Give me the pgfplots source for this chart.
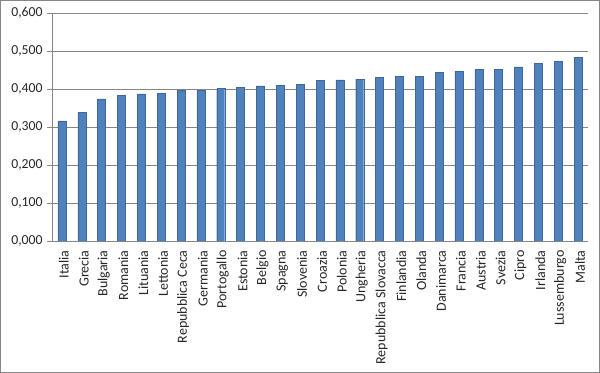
\documentclass[border=0pt]{standalone}
\usepackage{fontspec}
\setmainfont{Carlito}
\usepackage{pgfplots}
\pgfplotsset{compat=1.18}
\definecolor{barblue}{RGB}{79,129,189}
\definecolor{gridgray}{RGB}{134,134,134}
\begin{document}
\begin{tikzpicture}[x=1pt,y=1pt]
\path[use as bounding box] (0,0) rectangle (450,279.75);
\begin{axis}[
  at={(39pt,99pt)}, anchor=south west,
  scale only axis, width=402pt, height=171pt,
  xmin=-0.5, xmax=26.5, ymin=0, ymax=0.6,
  ytick={0,0.1,...,0.61},
  ymajorgrids, grid style={gridgray, line width=0.6pt},
  axis line style={gridgray, line width=0.6pt},
  axis x line*=bottom, axis y line*=left,
  tick align=outside,
  ytick style={gridgray, line width=0.6pt},
  major tick length=3.5pt,
  xtick={0,...,26},
  xtick style={draw=none},
  minor xtick={-0.5,0.5,...,26.6},
  minor x tick style={gridgray, line width=0.6pt},
  minor tick length=3.5pt,
  xticklabels={Italia,Grecia,Bulgaria,Romania,Lituania,Lettonia,Repubblica Ceca,Germania,Portogallo,Estonia,Belgio,Spagna,Slovenia,Croazia,Polonia,Ungheria,Repubblica Slovacca,Finlandia,Olanda,Danimarca,Francia,Austria,Svezia,Cipro,Irlanda,Lussemburgo,Malta},
  xticklabel style={rotate=90, anchor=east, font=\fontsize{10.5}{12}\selectfont, text=black!85, yshift=-1.5pt},
  yticklabel style={font=\fontsize{10.3}{12}\selectfont, text=black!85},
  /pgf/number format/.cd, fixed, fixed zerofill, precision=3, use comma, assume math mode=true,
]
\addplot[ybar, bar width=6pt, fill=barblue, draw=barblue!80!black, line width=0.3pt] coordinates {
(0,0.316) (1,0.338) (2,0.374) (3,0.383) (4,0.387) (5,0.389) (6,0.396) (7,0.396)
(8,0.401) (9,0.405) (10,0.408) (11,0.410) (12,0.412) (13,0.423) (14,0.424) (15,0.426)
(16,0.431) (17,0.433) (18,0.433) (19,0.443) (20,0.447) (21,0.451) (22,0.451) (23,0.458)
(24,0.468) (25,0.472) (26,0.483)
};
\end{axis}
\draw[gridgray, line width=0.75pt] (0.4,0.4) rectangle (449.6,279.35);
\end{tikzpicture}
\end{document}
